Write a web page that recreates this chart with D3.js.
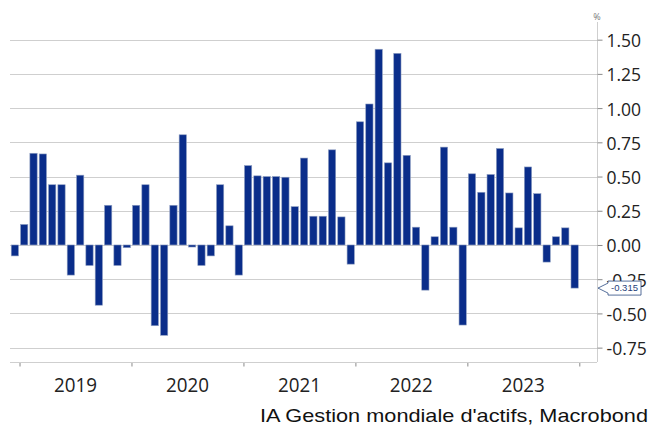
<!DOCTYPE html>
<html lang='fr'>
	<head>
		<meta charset='utf-8'>
		<title>IA Gestion mondiale d'actifs</title>
		<script type='text/javascript' src='https://cdn.jsdelivr.net/npm/d3@7'></script>
		<style>
			body { margin: 0; background: #fff; }
			svg { display: block; }
		</style>
	</head>
	<body>
		<script type='text/javascript'>
		// monthly values, Dec 2018 .. Dec 2023
		var months = [];
		for (var m = 0; m < 61; m++) {
			var yr = 2018 + Math.floor((m + 11) / 12), mo = (m + 11) % 12 + 1;
			months.push(yr + '-' + (mo < 10 ? '0' : '') + mo);
		}
		var values = [
			-0.08,
			0.15, 0.67, 0.665, 0.44, 0.44, -0.22, 0.51, -0.15, -0.44, 0.29, -0.15, -0.02,
			0.29, 0.44, -0.59, -0.66, 0.29, 0.805, -0.015, -0.15, -0.08, 0.44, 0.14, -0.22,
			0.58, 0.505, 0.50, 0.50, 0.495, 0.28, 0.635, 0.21, 0.21, 0.695, 0.205, -0.14,
			0.90, 1.03, 1.43, 0.60, 1.40, 0.655, 0.13, -0.33, 0.06, 0.715, 0.13, -0.585,
			0.52, 0.385, 0.515, 0.705, 0.38, 0.125, 0.57, 0.375, -0.125, 0.06, 0.125, -0.315
		];
		var years = ['2019', '2020', '2021', '2022', '2023'];
		var y_ticks = [-0.75, -0.5, -0.25, 0, 0.25, 0.5, 0.75, 1.0, 1.25, 1.5];
		var last_label = '-0.315';
		var source = "IA Gestion mondiale d'actifs, Macrobond";

		var width = 652, height = 425;
		var plot_left = 10, plot_right = 597, plot_top = 22, plot_bottom = 362;
		var svg = d3.select('body').append('svg').attr('width', width).attr('height', height);

		var x = d3.scaleBand().domain(months).range([10.2, 579.3]).paddingInner(0.22).paddingOuter(0.11);
		var x_idx = d3.scaleLinear().domain([0, months.length]).range([10.2, 579.3]);
		var y = d3.scaleLinear().domain([-0.855, 1.629]).range([plot_bottom, plot_top]);

		// gridlines
		svg.append('g').selectAll('line').data(y_ticks).enter().append('line')
			.attr('x1', plot_left).attr('x2', plot_right)
			.attr('y1', d => Math.round(y(d)) + 0.5).attr('y2', d => Math.round(y(d)) + 0.5)
			.attr('stroke', '#cfcfcf').attr('stroke-width', 1);

		// bars
		svg.append('g').selectAll('rect').data(values).enter().append('rect')
			.attr('x', (d, i) => x(months[i]))
			.attr('width', x.bandwidth())
			.attr('y', d => y(Math.max(0, d)))
			.attr('height', d => Math.abs(y(d) - y(0)))
			.attr('fill', '#0a2d8a')
			.attr('stroke', '#8f9fc2').attr('stroke-width', 0.6);

		// bottom axis (year boundaries)
		var x_axis = svg.append('g').attr('transform', 'translate(0,' + (plot_bottom + 0.5) + ')')
			.call(d3.axisBottom(x_idx).tickValues([1, 13, 25, 37, 49, 61]).tickSize(4).tickSizeOuter(0).tickFormat(''));
		x_axis.select('.domain').remove();
		x_axis.selectAll('line').attr('stroke', '#8a8a8a');
		svg.append('line').attr('x1', plot_left).attr('x2', plot_right)
			.attr('y1', plot_bottom + 0.5).attr('y2', plot_bottom + 0.5).attr('stroke', '#cfcfcf');

		svg.append('g').selectAll('text').data(years).enter().append('text')
			.attr('x', (d, i) => x_idx(1 + i * 12 + 6) - 21.5)
			.attr('y', 391.5)
			.attr('font-family', "'Open Sans', 'Noto Sans', sans-serif")
			.attr('font-size', 20.5)
			.attr('textLength', 43).attr('lengthAdjust', 'spacingAndGlyphs')
			.attr('fill', '#222')
			.text(d => d);

		// right axis
		var y_axis = svg.append('g').attr('transform', 'translate(' + (plot_right + 0.5) + ',0)')
			.call(d3.axisRight(y).tickValues(y_ticks).tickSize(5).tickPadding(4).tickFormat(d => d.toFixed(2)));
		y_axis.select('.domain').attr('stroke', '#cfcfcf').attr('d', 'M0,' + plot_top + 'V' + plot_bottom);
		y_axis.selectAll('line').attr('stroke', '#8a8a8a');
		y_axis.selectAll('text')
			.attr('font-family', "'Open Sans', 'Noto Sans', sans-serif")
			.attr('font-size', 17.5)
			.attr('fill', '#222')
			.attr('dy', '0.4em');

		svg.append('text').attr('x', plot_right).attr('y', 20)
			.attr('text-anchor', 'middle')
			.attr('font-family', "'Open Sans', sans-serif").attr('font-size', 9).attr('fill', '#777')
			.text('%');

		// last value callout
		var ly = y(values[values.length - 1]);
		var callout = svg.append('g');
		callout.append('path')
			.attr('d', 'M' + (plot_right + 1) + ',' + ly + 'L608,' + (ly - 5) + 'V' + (ly - 7) + 'H641V' + (ly + 7) + 'H608V' + (ly + 5) + 'Z')
			.attr('fill', '#fff').attr('stroke', '#2b4a80').attr('stroke-width', 0.8);
		callout.append('text').attr('x', 624.5).attr('y', ly + 3.3)
			.attr('text-anchor', 'middle')
			.attr('font-family', "'Liberation Sans', Arial, sans-serif").attr('font-size', 9.5)
			.attr('fill', '#1f3f7a')
			.text(last_label);

		// source
		svg.append('text').attr('x', 260).attr('y', 421.5)
			.attr('font-family', "'Liberation Sans', Arial, sans-serif").attr('font-size', 19)
			.attr('textLength', 388).attr('lengthAdjust', 'spacingAndGlyphs')
			.attr('fill', '#111')
			.text(source);
		</script>
	</body>
</html>
